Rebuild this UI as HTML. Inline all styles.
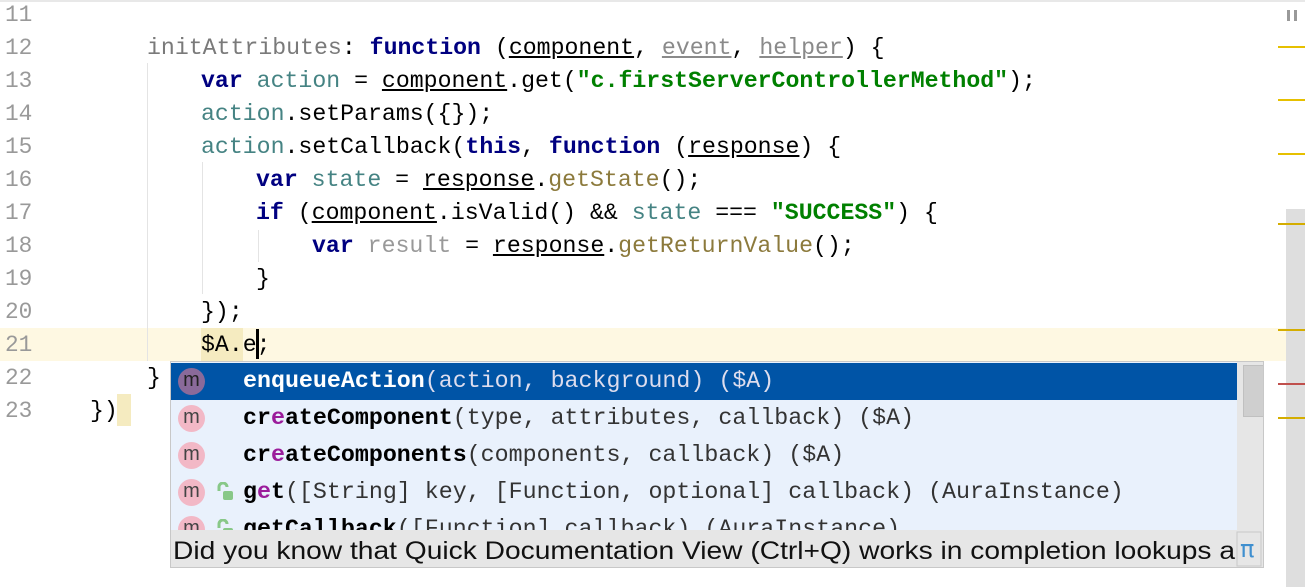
<!DOCTYPE html>
<html><head><meta charset="utf-8"><style>
body{margin:0;width:1305px;height:587px;overflow:hidden;background:#fff;position:relative;font-family:"Liberation Mono",monospace}
.ln{position:absolute;left:5px;width:30px;font-size:22.8px;color:#999;line-height:33px}
.c{position:absolute;font-size:23.2px;line-height:33px;white-space:pre;color:#000}
.k{color:#000080;font-weight:bold}
.v{color:#458383}
.m{color:#8c7a3c}
.s{color:#008000;font-weight:bold}
.u{text-decoration:underline}
.g{color:#7a7a7a}
.gu{color:#8a8a8a;text-decoration:underline}
.pop{position:absolute;left:170px;top:361px;width:1094px;height:207px;border:1px solid #c8c8c8;background:#e9f1fc;box-sizing:border-box;overflow:hidden}
.row{position:absolute;left:0;width:1066px;height:37px;font-size:23.3px;line-height:37px;white-space:nowrap;overflow:hidden}
.row .t{position:absolute;left:72px;top:0;white-space:pre}
.ic{position:absolute;left:7px;top:5px;width:27px;height:27px;border-radius:50%;background:#f2b8c6;color:#444;font-family:"Liberation Sans",sans-serif;font-size:20px;line-height:25px;text-align:center}
.lk{position:absolute;left:44px;top:8px}
.b{font-weight:bold}
.p{color:#9b1c9b}
.mk{position:absolute;left:1278px;width:27px;height:2px;background:#e6c000}
.ig{position:absolute;width:1px;background:#e4e4e4}
</style></head><body>
<div style="position:absolute;left:0;top:0;width:1305px;height:2px;background:#e8e8e8"></div>
<div style="position:absolute;left:0;top:328px;width:1305px;height:33px;background:#fef8e2"></div>
<div style="position:absolute;left:1286px;top:209px;width:19px;height:378px;background:#dedede"></div>
<div style="position:absolute;left:1287px;top:10px;width:3px;height:11px;background:#999"></div>
<div style="position:absolute;left:1294px;top:10px;width:3px;height:11px;background:#999"></div>
<div class="mk" style="top:46px"></div><div class="mk" style="top:99px"></div><div class="mk" style="top:153px"></div>
<div class="mk" style="top:223px;background:#d4ad00"></div><div class="mk" style="top:329px;background:#d4ad00"></div>
<div class="mk" style="top:383px;background:#c0504d"></div><div class="mk" style="top:417px;background:#d4ad00"></div>
<div class="ig" style="left:147px;top:63px;height:298px"></div>
<div class="ig" style="left:202px;top:162px;height:132px"></div>
<div class="ig" style="left:258px;top:230px;height:32px"></div>

<div class="ln" style="top:-1px">11</div><div class="ln" style="top:32px">12</div><div class="ln" style="top:65px">13</div>
<div class="ln" style="top:98px">14</div><div class="ln" style="top:131px">15</div><div class="ln" style="top:164px">16</div>
<div class="ln" style="top:197px">17</div><div class="ln" style="top:230px">18</div><div class="ln" style="top:263px">19</div>
<div class="ln" style="top:296px">20</div><div class="ln" style="top:329px">21</div><div class="ln" style="top:362px">22</div>
<div class="ln" style="top:395px">23</div>

<div class="c" style="left:147px;top:32px"><span class="g">initAttributes</span>: <span class="k">function</span> (<span class="u">component</span>, <span class="gu">event</span>, <span class="gu">helper</span>) {</div>
<div class="c" style="left:201px;top:65px"><span class="k">var</span> <span class="v">action</span> = <span class="u">component</span>.get(<span class="s">"c.firstServerControllerMethod"</span>);</div>
<div class="c" style="left:201px;top:98px"><span class="v">action</span>.setParams({});</div>
<div class="c" style="left:201px;top:131px"><span class="v">action</span>.setCallback(<span class="k">this</span>, <span class="k">function</span> (<span class="u">response</span>) {</div>
<div class="c" style="left:256px;top:164px"><span class="k">var</span> <span class="v">state</span> = <span class="u">response</span>.<span class="m">getState</span>();</div>
<div class="c" style="left:256px;top:197px"><span class="k">if</span> (<span class="u">component</span>.isValid() &amp;&amp; <span class="v">state</span> === <span class="s">"SUCCESS"</span>) {</div>
<div class="c" style="left:312px;top:230px"><span class="k">var</span> <span style="color:#999">result</span> = <span class="u">response</span>.<span class="m">getReturnValue</span>();</div>
<div class="c" style="left:256px;top:263px">}</div>
<div class="c" style="left:201px;top:296px">});</div>
<div style="position:absolute;left:201px;top:328px;width:42px;height:33px;background:#f5ebc0"></div>
<div class="c" style="left:201px;top:329px">$A.e;</div>
<div style="position:absolute;left:256px;top:329px;width:3px;height:30px;background:#000"></div>
<div class="c" style="left:147px;top:362px">}</div>
<div style="position:absolute;left:117px;top:394px;width:14px;height:32px;background:#f5ebc0"></div>
<div class="c" style="left:90px;top:395px">})</div>

<div class="pop">
 <div class="row" style="top:1px;background:#0054a6;color:#fff"><div class="ic" style="background:#8a6a9a;color:#222">m</div><span class="t"><span class="b" style="color:#fff">enqueueAction</span><span style="color:#dde">(action, background) ($A)</span></span></div>
 <div class="row" style="top:38px"><div class="ic">m</div><span class="t"><span class="b">cr<span class="p">e</span>ateComponent</span><span style="color:#333">(type, attributes, callback) ($A)</span></span></div>
 <div class="row" style="top:75px"><div class="ic">m</div><span class="t"><span class="b">cr<span class="p">e</span>ateComponents</span><span style="color:#333">(components, callback) ($A)</span></span></div>
 <div class="row" style="top:112px"><div class="ic">m</div><svg class="lk" width="20" height="20"><path d="M4 9 V5 a4 4 0 0 1 8 0" fill="none" stroke="#88c888" stroke-width="3"/><rect x="8" y="9" width="10" height="9" rx="2" fill="#88c888"/></svg><span class="t"><span class="b">g<span class="p">e</span>t</span><span style="color:#333">([String] key, [Function, optional] callback) (AuraInstance)</span></span></div>
 <div class="row" style="top:149px"><div class="ic">m</div><svg class="lk" width="20" height="20"><path d="M4 9 V5 a4 4 0 0 1 8 0" fill="none" stroke="#88c888" stroke-width="3"/><rect x="8" y="9" width="10" height="9" rx="2" fill="#88c888"/></svg><span class="t"><span class="b">getCallback</span><span style="color:#333">([Function] callback) (AuraInstance)</span></span></div>
 <div style="position:absolute;left:1066px;top:0;width:28px;height:168px;background:#e6e6e6"></div>
 <div style="position:absolute;left:1072px;top:3px;width:19px;height:50px;background:#cfcfcf;border:1px solid #c0c0c0"></div>
 <div style="position:absolute;left:0;top:168px;width:1094px;height:39px;background:#e6e6e6"></div>
 <svg style="position:absolute;left:0;top:168px" width="1094" height="39"><text x="2" y="29" font-family="Liberation Sans, sans-serif" font-size="25" fill="#111" textLength="1062" lengthAdjust="spacingAndGlyphs">Did you know that Quick Documentation View (Ctrl+Q) works in completion lookups a</text><rect x="1066" y="2" width="24" height="34" fill="none" stroke="#c8c8c8"/><text x="1069" y="27" font-family="DejaVu Sans, sans-serif" font-size="24" fill="#3f8fcf">π</text><text x="1090" y="29" font-family="Liberation Sans" font-size="25" fill="#111">.</text></svg>
</div>
</body></html>
